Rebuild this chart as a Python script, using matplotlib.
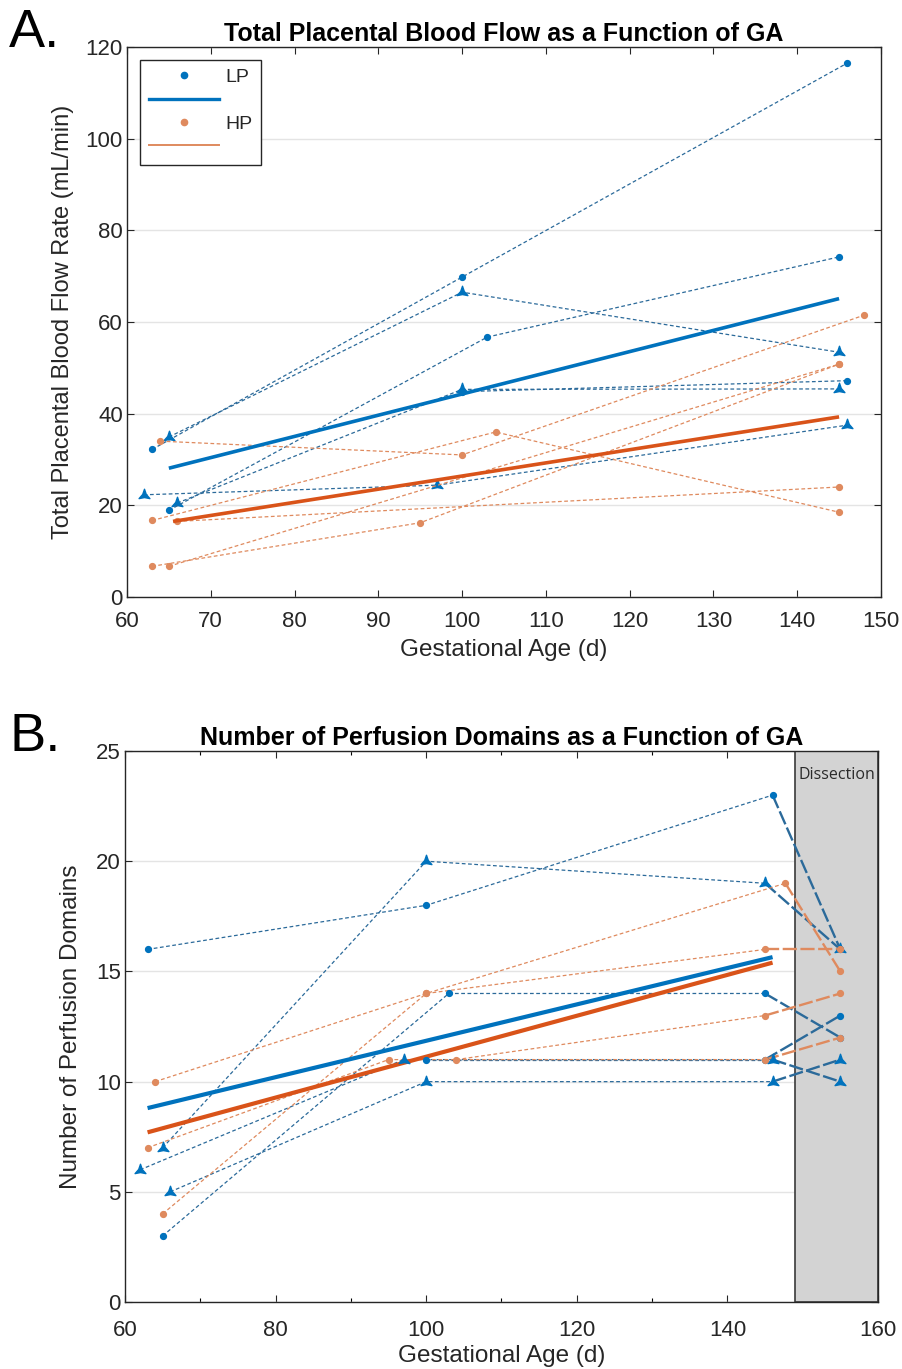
import numpy as np
import matplotlib
matplotlib.use('Agg')
import matplotlib.pyplot as plt
from matplotlib.path import Path
from matplotlib.lines import Line2D
import matplotlib.ticker as mticker

plt.rcParams['font.family'] = ['Liberation Sans', 'DejaVu Sans']

# ---------------- Data: Panel A (Total placental blood flow, mL/min) ----------------
lpA_days = [[63, 100, 146], [65, 100, 145], [62, 97, 146], [66, 100, 145], [65, 103, 145], [100, 146]]
lpA_flow = [[32.2, 69.8, 116.5], [34.9, 66.5, 53.4], [22.3, 24.4, 37.5], [20.5, 45.3, 45.4],
            [18.9, 56.7, 74.2], [44.8, 47.2]]
lpA_mark = ['o', 'tri', 'tri', 'tri', 'o', 'o']

hpA_days = [[64, 100, 148], [63, 104, 145], [63, 95, 145], [65, 145], [66, 145]]
hpA_flow = [[34.0, 31.0, 61.5], [16.7, 36.0, 18.5], [6.7, 16.2, 50.8], [6.7, 50.8], [16.5, 24.0]]

lpA_fit_days = [65, 145]
lpA_fit_flow = [28.1, 65.1]
hpA_fit_days = [65.5, 145]
hpA_fit_flow = [16.5, 39.3]

# ---------------- Data: Panel B (number of perfusion domains) ----------------
# last value of each subject = dissection count (plotted at day 155)
lpB_days = [[63, 100, 146, 155], [65, 100, 145, 155], [62, 97, 146, 155], [66, 100, 146, 155],
            [65, 103, 145, 155], [100, 145, 155]]
lpB_domains = [[16, 18, 23, 16], [7, 20, 19, 16], [6, 11, 11, 10], [5, 10, 10, 11],
               [3, 14, 14, 12], [11, 11, 13]]
lpB_mark = ['o', 'tri', 'tri', 'tri', 'o', 'o']

hpB_days = [[64, 100, 147.7, 155], [65, 100, 145, 155], [63, 95, 145, 155], [104, 145, 155]]
hpB_domains = [[10, 14, 19, 15], [4, 14, 16, 16], [7, 11, 11, 12], [11, 13, 14]]

lpB_fit_days = [63, 146]
lpB_fit_domains = [8.8, 15.65]
hpB_fit_days = [63, 146]
hpB_fit_domains = [7.7, 15.4]

dissection_span = [149, 160]

# ---------------- Styling ----------------
BLUE = '#0072BD'
ORANGE = '#D95319'
BLUE_D = '#2b6a9a'
ORANGE_D = '#df8a5e'
AXC = '#262626'

ang_out = np.deg2rad([90, 210, 330])
ang_in = np.deg2rad([150, 270, 30])
verts = []
for ao, ai in zip(ang_out, ang_in):
    verts.append((np.cos(ao), np.sin(ao)))
    verts.append((0.33 * np.cos(ai), 0.33 * np.sin(ai)))
verts.append(verts[0])
codes = [Path.MOVETO] + [Path.LINETO] * 5 + [Path.CLOSEPOLY]
TRI = Path(verts, codes)


def mk(m):
    return (TRI, 9) if m == 'tri' else ('o', 4.2)


def style(ax, xpad):
    ax.tick_params(direction='in', top=True, right=True, length=5, width=0.8,
                   labelsize=16, colors=AXC)
    ax.tick_params(axis='x', pad=xpad)
    ax.tick_params(axis='y', pad=3)
    ax.tick_params(which='minor', direction='in', top=True, right=True, length=3, width=0.8)
    for s in ax.spines.values():
        s.set_color(AXC)
        s.set_linewidth(1.0)
    ax.yaxis.grid(True, color='#e4e4e4', lw=1.0)
    ax.set_axisbelow(True)


fig = plt.figure(figsize=(9.03, 13.69), dpi=100)
axA = fig.add_axes([0.1406, 0.5639, 0.8350, 0.4018])
axB = fig.add_axes([0.1384, 0.0489, 0.8339, 0.4025])

dash = (0, (3.0, 2.0))

# ---- Panel A ----
for d, v, m in zip(lpA_days, lpA_flow, lpA_mark):
    marker, ms = mk(m)
    axA.plot(d, v, ls=dash, lw=0.9, color=BLUE_D, marker=marker, ms=ms,
             mfc=BLUE, mec=BLUE, zorder=3)
for d, v in zip(hpA_days, hpA_flow):
    axA.plot(d, v, ls=dash, lw=0.9, color=ORANGE_D, marker='o', ms=4.2,
             mfc=ORANGE_D, mec=ORANGE_D, zorder=3)
axA.plot(lpA_fit_days, lpA_fit_flow, color=BLUE, lw=2.6, zorder=4, solid_capstyle='butt')
axA.plot(hpA_fit_days, hpA_fit_flow, color=ORANGE, lw=2.6, zorder=4, solid_capstyle='butt')

axA.set_xlim(60, 150)
axA.set_ylim(0, 120)
axA.xaxis.set_major_locator(mticker.MultipleLocator(10))
axA.yaxis.set_major_locator(mticker.MultipleLocator(20))
style(axA, 10)
axA.set_title('Total Placental Blood Flow as a Function of GA', fontweight='bold',
              fontsize=18, color='black', pad=4)
axA.set_xlabel('Gestational Age (d)', fontsize=17.5, color=AXC, labelpad=5)
axA.set_ylabel('Total Placental Blood Flow Rate (mL/min)', fontsize=17, color=AXC, labelpad=8)

handles = [Line2D([], [], ls='none', marker='o', ms=4.5, color=BLUE),
           Line2D([], [], color=BLUE, lw=2.4),
           Line2D([], [], ls='none', marker='o', ms=4.5, color=ORANGE_D),
           Line2D([], [], color=ORANGE_D, lw=1.4)]
leg = axA.legend(handles, ['LP', ' ', 'HP', ' '], loc='upper left',
                 bbox_to_anchor=(0.017, 0.977), borderaxespad=0, fancybox=False,
                 edgecolor=AXC, framealpha=1, handlelength=3.6, fontsize=14,
                 labelspacing=0.3, handletextpad=0.35, borderpad=0.45)
leg.get_frame().set_linewidth(1.0)
for t in leg.get_texts():
    t.set_color(AXC)

# ---- Panel B ----
axB.axvspan(dissection_span[0], dissection_span[1], facecolor='#d3d3d3',
            edgecolor='#3a3a3a', lw=1.2, zorder=1)
for d, v, m in zip(lpB_days, lpB_domains, lpB_mark):
    marker, ms = mk(m)
    axB.plot(d[:-1], v[:-1], ls=dash, lw=0.9, color=BLUE_D, zorder=3)
    axB.plot(d[-2:], v[-2:], ls=(0, (6, 1.5)), lw=1.7, color=BLUE_D, zorder=3)
    axB.plot(d, v, ls='none', marker=marker, ms=ms, mfc=BLUE, mec=BLUE, zorder=5)
for d, v in zip(hpB_days, hpB_domains):
    axB.plot(d[:-1], v[:-1], ls=dash, lw=0.9, color=ORANGE_D, zorder=3)
    axB.plot(d[-2:], v[-2:], ls=(0, (6, 1.5)), lw=1.7, color=ORANGE_D, zorder=3)
    axB.plot(d, v, ls='none', marker='o', ms=4.2, mfc=ORANGE_D, mec=ORANGE_D, zorder=5)
axB.plot(lpB_fit_days, lpB_fit_domains, color=BLUE, lw=3.0, zorder=4, solid_capstyle='butt')
axB.plot(hpB_fit_days, hpB_fit_domains, color=ORANGE, lw=3.0, zorder=4, solid_capstyle='butt')

axB.text(sum(dissection_span) / 2, 23.9, 'Dissection', ha='center', va='center',
         fontsize=11.5, color='#2a2a2a', family=['Open Sans', 'DejaVu Sans'], zorder=6)

axB.set_xlim(60, 160)
axB.set_ylim(0, 25)
axB.xaxis.set_major_locator(mticker.MultipleLocator(20))
axB.xaxis.set_minor_locator(mticker.MultipleLocator(10))
axB.yaxis.set_major_locator(mticker.MultipleLocator(5))
style(axB, 13)
axB.set_title('Number of Perfusion Domains as a Function of GA', fontweight='bold',
              fontsize=18, color='black', pad=4)
axB.set_xlabel('Gestational Age (d)', fontsize=17.5, color=AXC, labelpad=3)
axB.set_ylabel('Number of Perfusion Domains', fontsize=17.5, color=AXC, labelpad=10)

fig.text(0.010, 0.976, 'A.', fontsize=39, va='center', ha='left', color='black')
fig.text(0.010, 0.462, 'B.', fontsize=39, va='center', ha='left', color='black')

fig.savefig('out.png', dpi=100, facecolor='white')
